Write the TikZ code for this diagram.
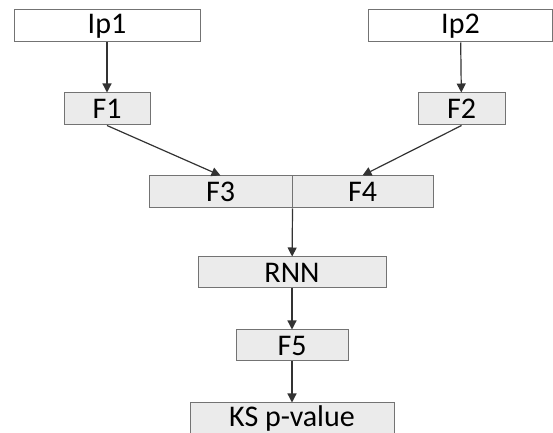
\documentclass[tikz,border=0pt]{standalone}
\usepackage{fontspec}
\setmainfont{Carlito}
\usetikzlibrary{arrows.meta}

\tikzset{
  box/.style={draw=black!55, fill=black!8, line width=0.5pt, inner sep=0pt,
    minimum height=16pt, font=\fontsize{15}{17}\selectfont},
  inbox/.style={box, fill=white},
  flow/.style={-{Triangle[length=4.5pt,width=4.5pt]}, draw=black!80, line width=0.6pt}
}

\begin{document}
\begin{tikzpicture}[x=0.5pt,y=-0.5pt]
            \useasboundingbox (0,0) rectangle (553,433);
            \begin{scope}
            \clip (0,0) rectangle (553,433);

            \node[inbox, minimum width=93pt] (ip1) at (107, 26) {Ip1};
            \node[inbox, minimum width=92pt] (ip2) at (460.5, 26) {Ip2};

            \node[box, minimum width=43pt] (f1) at (107, 109) {F1};
            \node[box, minimum width=43.5pt] (f2) at (461.5, 109) {F2};

            %F3 and F4 share one edge
            \node[box, minimum width=71.5pt] (f3) at (220.5, 192) {F3};
            \node[box, minimum width=70.5pt] (f4) at (362.5, 192) {F4};

            \node[box, minimum width=94pt, minimum height=15.5pt] (rnn) at (292, 272.5) {RNN};
            \node[box, minimum width=56pt, minimum height=15.5pt] (f5) at (292, 345.5) {F5};
            \node[box, minimum width=102pt] (ks) at (292, 419) {KS p-value};

            \draw[flow] (ip1) -- (f1);
            \draw[flow] (ip2) -- (f2);

            \draw[flow] (f1.south) -- (f3.north);
            \draw[flow] (f2.south) -- (f4.north);

            \draw[flow] (f3.south east) -- (rnn);
            \draw[flow] (rnn) -- (f5);
            \draw[flow] (f5) -- (ks);
            \end{scope}

        \end{tikzpicture}
\end{document}
